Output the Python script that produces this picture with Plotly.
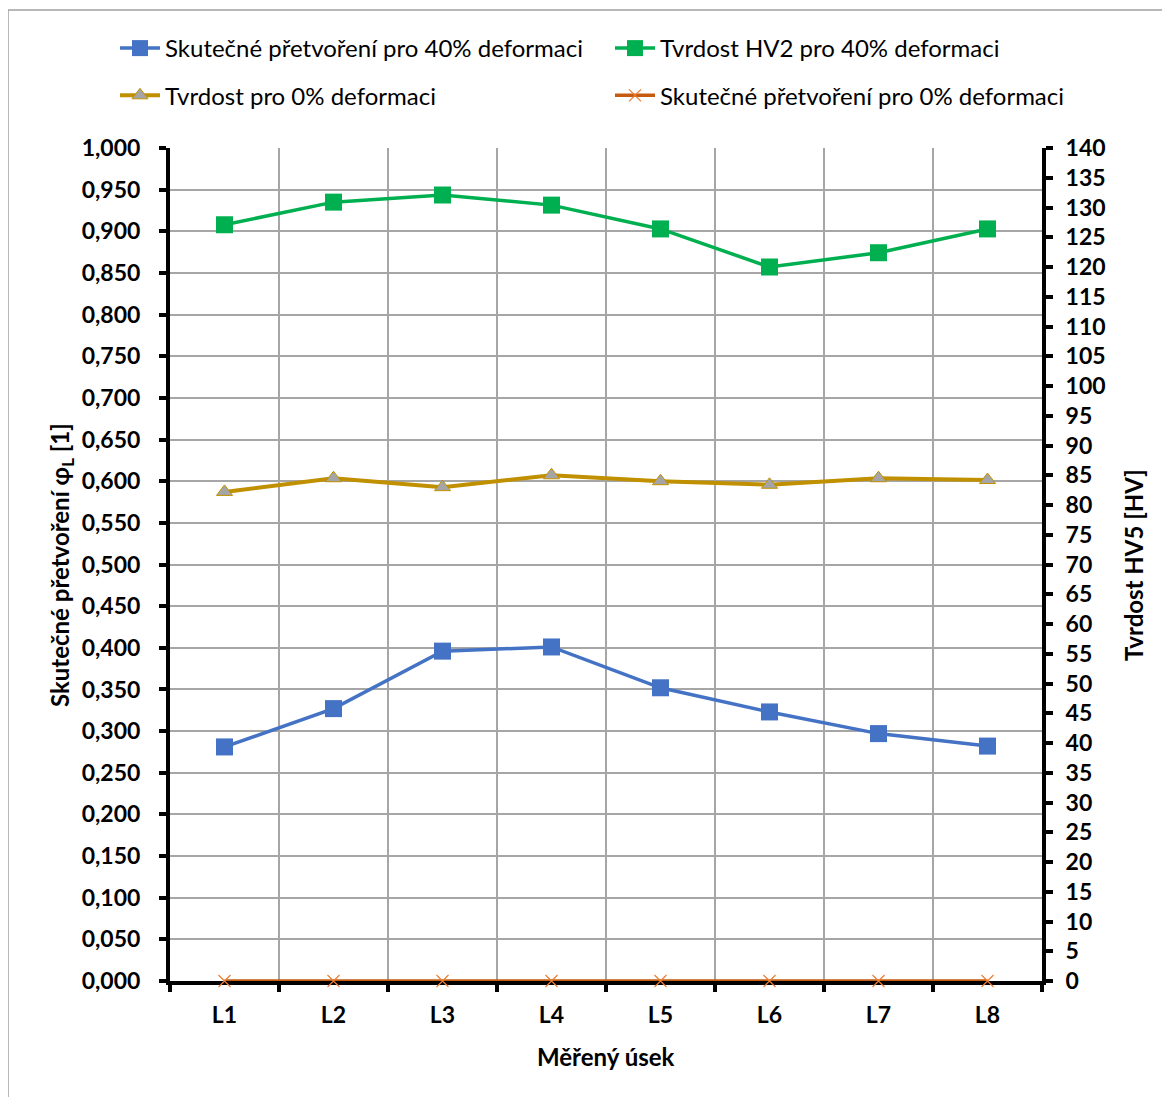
import plotly.graph_objects as go

categories = ["L1", "L2", "L3", "L4", "L5", "L6", "L7", "L8"]
strain_40 = [0.281, 0.327, 0.396, 0.401, 0.352, 0.323, 0.297, 0.282]
hardness_40 = [127.1, 130.9, 132.1, 130.4, 126.4, 120.0, 122.4, 126.4]
hardness_0 = [82.2, 84.5, 83.0, 85.0, 84.0, 83.4, 84.5, 84.2]
strain_0 = [0, 0, 0, 0, 0, 0, 0, 0]

FONT = "Lato"
OFF = 8  # page offset of the figure

fig = go.Figure()
fig.add_trace(go.Scatter(
    x=categories, y=strain_40, name="Skutečné přetvoření pro 40% deformaci",
    mode="lines+markers", line=dict(color="#4472C4", width=3.5),
    marker=dict(symbol="square", size=17, color="#4472C4"), yaxis="y",
    legend="legend", legendgroup="a"))
fig.add_trace(go.Scatter(
    x=categories, y=hardness_40, name="Tvrdost HV2 pro 40% deformaci",
    mode="lines+markers", line=dict(color="#00B050", width=3.5),
    marker=dict(symbol="square", size=17, color="#00B050"), yaxis="y2",
    legend="legend2", legendgroup="b"))
fig.add_trace(go.Scatter(
    x=categories, y=hardness_0, name="Tvrdost pro 0% deformaci",
    mode="lines+markers", line=dict(color="#C09000", width=4),
    marker=dict(symbol="triangle-up", size=14, color="#A5A5A5",
                line=dict(color="#C09000", width=1)), yaxis="y2",
    legend="legend", legendgroup="c"))
fig.add_trace(go.Scatter(
    x=categories, y=strain_0, name="Skutečné přetvoření pro 0% deformaci",
    mode="lines+markers", line=dict(color="#C55A11", width=3.5),
    marker=dict(symbol="x-thin-open", size=12, color="#ED7D31",
                line=dict(color="#ED7D31", width=1.2)), yaxis="y",
    cliponaxis=False, legend="legend2", legendgroup="d"))

# screen coordinates of plot area
sx0, sx1, syt, syb = 170, 1042, 148, 981
x0, x1, yt, yb = sx0 - OFF, sx1 - OFF, syt - OFF, syb - OFF
W, H = x1 - x0, yb - yt

def px(sx):
    return (sx - OFF - x0) / W

def py(sy):
    return (yb - (sy - OFF)) / H

leg_common = dict(
    orientation="v", xref="container", yref="container",
    xanchor="left", yanchor="top",
    font=dict(family=FONT, size=24, color="#000000"),
    itemwidth=40, tracegroupgap=13, bgcolor="rgba(0,0,0,0)",
)

title_font = dict(family=FONT, size=24, color="#000000")

fig.update_layout(
    width=1170, height=1097,
    margin=dict(l=x0, r=1170 - x1, t=yt, b=1097 - yb, autoexpand=False),
    paper_bgcolor="white", plot_bgcolor="white",
    separators=", ",
    font=dict(family=FONT, color="#000000", size=22),
    showlegend=True,
    legend=dict(x=(115 - OFF) / 1170, y=1 - (26 - OFF) / 1097, **leg_common),
    legend2=dict(x=(610 - OFF) / 1170, y=1 - (26 - OFF) / 1097, **leg_common),
    xaxis=dict(
        type="category", categoryorder="array", categoryarray=categories,
        range=[-0.5, 7.5], tickson="boundaries", layer="below traces",
        showgrid=True, gridcolor="#A6A6A6", gridwidth=1.5,
        showline=True, linecolor="#000000", linewidth=4,
        ticks="outside", ticklen=7, tickwidth=4, tickcolor="#000000",
        ticklabelstandoff=10,
        tickfont=dict(family=FONT, size=23, color="#000000", weight="bold"),
        zeroline=False,
    ),
    yaxis=dict(
        range=[0, 1.0], dtick=0.05, tick0=0, tickformat=".3f",
        showgrid=True, gridcolor="#A6A6A6", gridwidth=1.5,
        showline=True, linecolor="#000000", linewidth=4,
        ticks="outside", ticklen=7, tickwidth=4, tickcolor="#000000",
        ticklabelstandoff=14,
        tickfont=dict(family=FONT, size=23, color="#000000", weight="bold"),
        zeroline=False,
    ),
    yaxis2=dict(
        range=[0, 140], dtick=5, tick0=0, overlaying="y", side="right",
        showgrid=False,
        showline=True, linecolor="#000000", linewidth=4,
        ticks="outside", ticklen=7, tickwidth=4, tickcolor="#000000",
        ticklabelstandoff=8,
        tickfont=dict(family=FONT, size=23, color="#000000", weight="bold"),
        zeroline=False,
    ),
    annotations=[
        dict(text="<b>Měřený úsek</b>", xref="paper", yref="paper",
             x=px(606), y=py(1056), xanchor="center", yanchor="middle",
             showarrow=False, font=title_font),
        dict(text="<b>Skutečné přetvoření φ<sub>L</sub> [1]</b>", xref="paper", yref="paper",
             x=px(61), y=py(565), xanchor="center", yanchor="middle",
             textangle=-90, showarrow=False, font=title_font),
        dict(text="<b>Tvrdost HV5 [HV]</b>", xref="paper", yref="paper",
             x=px(1133), y=py(565), xanchor="center", yanchor="middle",
             textangle=-90, showarrow=False, font=title_font),
    ],
    shapes=[
        dict(type="line", xref="paper", yref="paper", x0=px(8), x1=px(1185),
             y0=py(10), y1=py(10), line=dict(color="#A0A0A0", width=1.5)),
        dict(type="line", xref="paper", yref="paper", x0=px(8), x1=px(8),
             y0=py(10), y1=py(1115), line=dict(color="#A0A0A0", width=1.5)),
    ],
)

fig.write_html("out.html")
